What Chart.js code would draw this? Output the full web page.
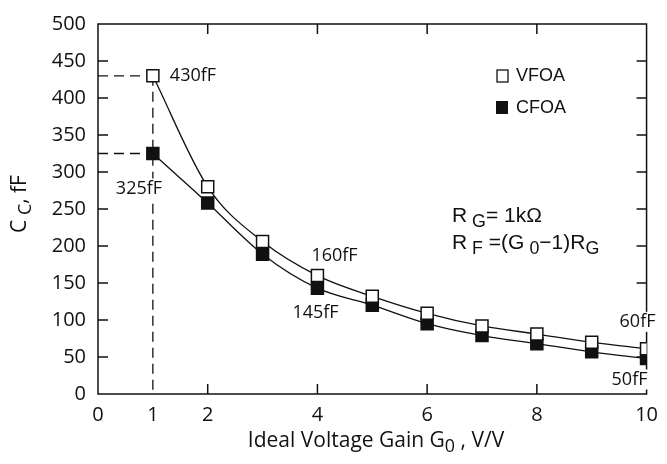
<!DOCTYPE html>
<html>
<head>
<meta charset="utf-8">
<script src="https://cdn.jsdelivr.net/npm/chart.js@4/dist/chart.umd.min.js"></script>
<style>
  html, body { margin: 0; padding: 0; background: #fff; }
  #wrap { width: 667px; height: 464px; position: relative; }
</style>
</head>
<body>
<div id="wrap"><canvas id="ccChart"></canvas></div>
<script>
// Data
const gains = [1, 2, 3, 4, 5, 6, 7, 8, 9, 10];
const vfoa = [430, 280, 206, 160, 132, 109, 92, 81, 70, 61];
const cfoa = [325, 258, 189, 143, 120, 95, 79, 68, 57, 48];
const xTicks = [0, 1, 2, 4, 6, 8, 10];
const yTicks = [0, 50, 100, 150, 200, 250, 300, 350, 400, 450, 500];
const pointLabels = [
    { text: '430fF', x: 1, y: 430 },
    { text: '325fF', x: 1, y: 325 },
    { text: '160fF', x: 4, y: 160 },
    { text: '145fF', x: 4, y: 143 },
    { text: '60fF', x: 10, y: 61 },
    { text: '50fF', x: 10, y: 48 }
];

const ink = '#111';
const sans = "'Open Sans', sans-serif";
const arial = "'Liberation Sans', Arial, sans-serif";

// draws text with subscript parts: parts = [[text, isSub], ...]
function drawRich(ctx, parts, x, y, size, family, align) {
    let total = 0;
    parts.forEach(p => {
        ctx.font = (p[1] ? size * 0.85 : size) + 'px ' + family;
        total += ctx.measureText(p[0]).width;
    });
    let cx = align === 'center' ? x - total / 2 : x;
    ctx.textAlign = 'left';
    ctx.textBaseline = 'middle';
    parts.forEach(p => {
        ctx.font = (p[1] ? size * 0.85 : size) + 'px ' + family;
        ctx.fillText(p[0], cx, p[1] ? y + size * 0.3 : y);
        cx += ctx.measureText(p[0]).width;
    });
}

const framePlugin = {
    id: 'frame',
    beforeDatasetsDraw(chart) {
        const { ctx, chartArea: a, scales: { x, y } } = chart;
        ctx.save();
        ctx.strokeStyle = ink;
        ctx.lineWidth = 1.5;
        ctx.strokeRect(a.left, a.top, a.right - a.left, a.bottom - a.top);

        // inward ticks on all four sides
        const len = 10;
        ctx.beginPath();
        [2, 4, 6, 8].forEach(v => {
            const px = x.getPixelForValue(v);
            ctx.moveTo(px, a.bottom); ctx.lineTo(px, a.bottom - len);
            ctx.moveTo(px, a.top); ctx.lineTo(px, a.top + len);
        });
        yTicks.slice(1, -1).forEach(v => {
            const py = y.getPixelForValue(v);
            ctx.moveTo(a.left, py); ctx.lineTo(a.left + len, py);
            ctx.moveTo(a.right, py); ctx.lineTo(a.right - len, py);
        });
        ctx.stroke();

        // dashed guides to the G0 = 1 points
        ctx.lineWidth = 1.3;
        ctx.setLineDash([10, 6]);
        const x1 = x.getPixelForValue(gains[0]);
        ctx.beginPath();
        [vfoa[0], cfoa[0]].forEach(v => {
            const py = y.getPixelForValue(v);
            ctx.moveTo(a.left, py); ctx.lineTo(x1, py);
        });
        ctx.moveTo(x1, y.getPixelForValue(vfoa[0]));
        ctx.lineTo(x1, a.bottom);
        ctx.stroke();
        ctx.restore();
    },
    afterDraw(chart) {
        const { ctx, scales: { x, y } } = chart;
        ctx.save();
        ctx.fillStyle = ink;

        // value labels, white backing hides the frame behind them
        const offs = {
            '430fF': [17, 0], '325fF': [-37, 35],
            '160fF': [-6, -20], '145fF': [-25, 25],
            '60fF': [-27, -27], '50fF': [-35, 21]
        };
        ctx.font = '18px ' + sans;
        ctx.textBaseline = 'middle';
        ctx.textAlign = 'left';
        pointLabels.forEach(l => {
            const o = offs[l.text];
            const px = x.getPixelForValue(l.x) + o[0];
            const py = y.getPixelForValue(l.y) + o[1];
            const w = ctx.measureText(l.text).width;
            ctx.fillStyle = '#fff';
            ctx.fillRect(px - 1, py - 10, w + 2, 20);
            ctx.fillStyle = ink;
            ctx.fillText(l.text, px, py);
        });

        // legend
        ctx.lineWidth = 1.3;
        ctx.strokeStyle = ink;
        ctx.strokeRect(497, 70, 11, 12);
        ctx.fillRect(496, 101, 12, 13);
        ctx.font = '18px ' + arial;
        ctx.fillText('VFOA', 516, 76);
        ctx.fillText('CFOA', 516, 108);

        // resistor notes
        drawRich(ctx, [['R', false], [' G', true], ['= 1k\u03A9', false]], 452, 216, 21, arial, 'left');
        drawRich(ctx, [['R', false], [' F', true], [' =(G', false], [' 0', true], ['\u22121)R', false], ['G', true]], 452, 243, 21, arial, 'left');

        // axis titles
        drawRich(ctx, [['Ideal Voltage Gain G', false], ['0', true], [' , V/V', false]], 376, 441, 21, sans, 'center');
        ctx.translate(20, 204);
        ctx.rotate(-Math.PI / 2);
        drawRich(ctx, [['C', false], [' C', true], [', fF', false]], 0, 0, 21, sans, 'center');
        ctx.restore();
    }
};

function series(label, values, filled) {
    return {
        label: label,
        data: gains.map((g, i) => ({ x: g, y: values[i] })),
        showLine: true,
        borderColor: ink,
        borderWidth: 1.3,
        cubicInterpolationMode: 'monotone',
        pointStyle: 'rect',
        pointRadius: 8.5,
        pointBorderWidth: 1.5,
        pointBorderColor: ink,
        pointBackgroundColor: filled ? ink : '#fff'
    };
}

new Chart(document.getElementById('ccChart'), {
    type: 'scatter',
    data: {
        datasets: [series('VFOA', vfoa, false), series('CFOA', cfoa, true)]
    },
    options: {
        responsive: true,
        maintainAspectRatio: false,
        animation: false,
        devicePixelRatio: 1,
        layout: { padding: { top: 14, right: 12, left: 0, bottom: 0 } },
        plugins: { legend: { display: false }, tooltip: { enabled: false } },
        scales: {
            x: {
                type: 'linear',
                min: 0,
                max: 10,
                afterBuildTicks: s => { s.ticks = xTicks.map(v => ({ value: v })); },
                afterFit: s => { s.height = 70; },
                grid: { display: false, drawTicks: false, tickLength: 0 },
                border: { display: false },
                ticks: { color: ink, font: { family: sans, size: 20 }, padding: 9, maxRotation: 0, autoSkip: false }
            },
            y: {
                min: 0,
                max: 500,
                afterBuildTicks: s => { s.ticks = yTicks.map(v => ({ value: v })); },
                afterFit: s => { s.width = 98; },
                grid: { display: false, drawTicks: false, tickLength: 0 },
                border: { display: false },
                ticks: { color: ink, font: { family: sans, size: 20 }, padding: 12 }
            }
        }
    },
    plugins: [framePlugin]
});
</script>
</body>
</html>
